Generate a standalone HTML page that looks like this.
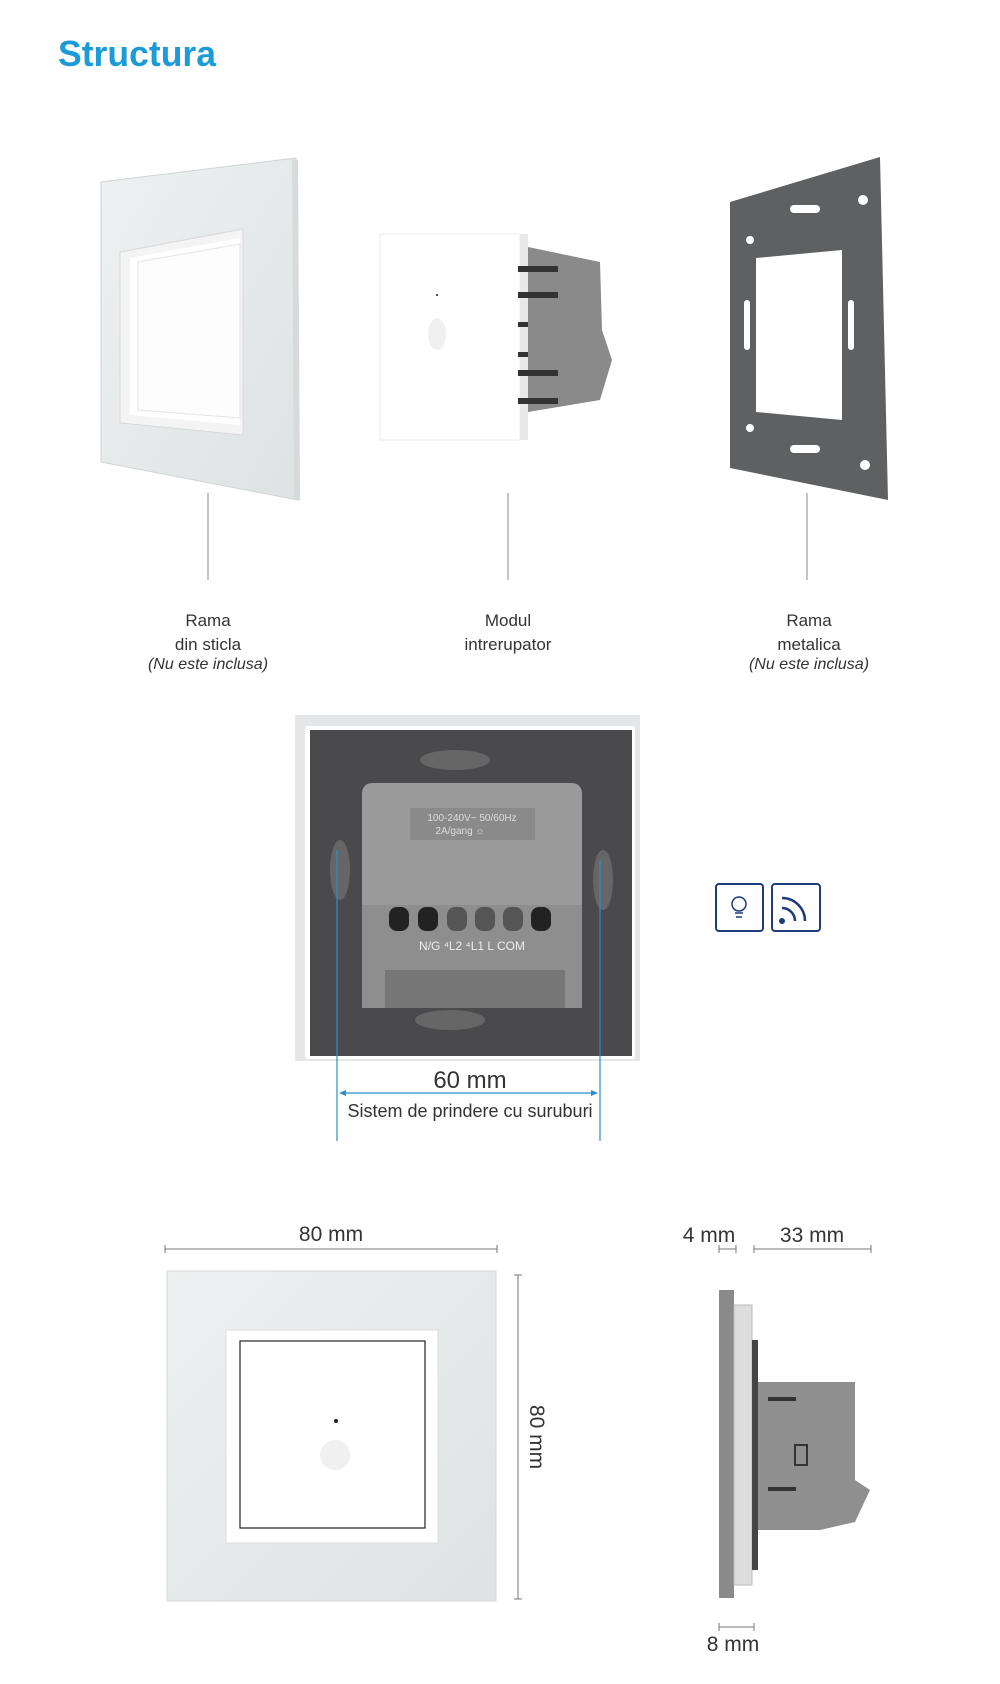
<!DOCTYPE html>
<html><head><meta charset="utf-8"><style>
body{margin:0;background:#fff;}
svg{display:block;font-family:"Liberation Sans",sans-serif;}
</style></head><body>
<svg width="1000" height="1684" viewBox="0 0 1000 1684" xmlns="http://www.w3.org/2000/svg">
<defs>
<linearGradient id="gl" x1="0" y1="0" x2="1" y2="1"><stop offset="0" stop-color="#eef0f1"/><stop offset="1" stop-color="#dfe2e3"/></linearGradient>
</defs>
<text x="58" y="66" font-size="36" font-weight="bold" fill="#1b9bd7" textLength="158" lengthAdjust="spacingAndGlyphs">Structura</text>

<!-- glass frame perspective -->
<polygon points="101,182 296,158 298,500 101,462" fill="url(#gl)" stroke="#cfd4d6"/>
<polygon points="292,158 298,160 300,500 294,498" fill="#d6dadb"/>
<polygon points="120,252 243,229 243,435 120,423" fill="#f4f4f4" stroke="#d8d8d8"/>
<polygon points="130,258 240,238 240,425 130,415" fill="#fff"/>
<polygon points="138,262 240,244 240,418 138,410" fill="#fdfdfd" stroke="#e4e4e4"/>

<!-- module -->
<rect x="380" y="234" width="140" height="206" fill="#fff" stroke="#eee"/>
<rect x="520" y="234" width="8" height="206" fill="#e8e8e8"/>
<polygon points="528,247 600,262 602,330 612,360 600,400 528,412" fill="#8a8a8a"/>
<g fill="#333"><rect x="518" y="266" width="40" height="6"/><rect x="518" y="292" width="40" height="6"/><rect x="518" y="322" width="10" height="5"/><rect x="518" y="352" width="10" height="5"/><rect x="518" y="370" width="40" height="6"/><rect x="518" y="398" width="40" height="6"/></g>
<rect x="436" y="294" width="2" height="2" fill="#555"/>
<ellipse cx="437" cy="334" rx="9" ry="16" fill="#f0f0f0"/>

<!-- metal frame -->
<polygon points="730,202 880,157 888,500 730,468" fill="#5f6062"/>
<polygon points="756,258 842,250 842,420 756,412" fill="#fff"/>
<g fill="#fff">
<circle cx="863" cy="200" r="5"/><circle cx="865" cy="465" r="5"/><circle cx="750" cy="240" r="4"/><circle cx="750" cy="428" r="4"/>
<rect x="744" y="300" width="6" height="50" rx="3"/><rect x="848" y="300" width="6" height="50" rx="3"/>
<rect x="790" y="205" width="30" height="8" rx="4"/><rect x="790" y="445" width="30" height="8" rx="4"/>
</g>

<g stroke="#888" stroke-width="1">
<line x1="208" y1="493" x2="208" y2="580"/>
<line x1="508" y1="493" x2="508" y2="580"/>
<line x1="807" y1="493" x2="807" y2="580"/>
</g>
<g font-size="17" fill="#333" text-anchor="middle">
<text x="208" y="626">Rama</text><text x="208" y="650">din sticla</text><text x="208" y="669" font-style="italic" font-size="16">(Nu este inclusa)</text>
<text x="508" y="626">Modul</text><text x="508" y="650">intrerupator</text>
<text x="809" y="626">Rama</text><text x="809" y="650">metalica</text><text x="809" y="669" font-style="italic" font-size="16">(Nu este inclusa)</text>
</g>

<!-- back view -->
<rect x="295" y="715" width="345" height="346" fill="#e4e6e7"/>
<rect x="305" y="726" width="330" height="333" fill="#fff" rx="3"/>
<rect x="310" y="730" width="322" height="326" fill="#4a4a4c"/>
<rect x="362" y="783" width="220" height="225" rx="10" fill="#9a9a9a"/>
<rect x="362" y="905" width="220" height="103" fill="#8e8e8e"/>
<rect x="410" y="808" width="125" height="32" fill="#8a8a8a"/>
<text x="472" y="821" font-size="10" fill="#ddd" text-anchor="middle">100-240V~ 50/60Hz</text>
<text x="460" y="834" font-size="10" fill="#ddd" text-anchor="middle">2A/gang ☼</text>
<g fill="#222">
<rect x="389" y="907" width="20" height="24" rx="8"/><rect x="418" y="907" width="20" height="24" rx="8"/>
<rect x="447" y="907" width="20" height="24" rx="8" fill="#555"/><rect x="475" y="907" width="20" height="24" rx="8" fill="#555"/><rect x="503" y="907" width="20" height="24" rx="8" fill="#555"/><rect x="531" y="907" width="20" height="24" rx="8"/>
</g>
<text x="472" y="950" font-size="12" fill="#eee" text-anchor="middle">N/G ⁴L2 ⁴L1    L    COM</text>
<rect x="385" y="970" width="180" height="38" fill="#777"/>
<ellipse cx="455" cy="760" rx="35" ry="10" fill="#666"/>
<ellipse cx="450" cy="1020" rx="35" ry="10" fill="#666"/>
<ellipse cx="340" cy="870" rx="10" ry="30" fill="#666"/>
<ellipse cx="603" cy="880" rx="10" ry="30" fill="#666"/>

<g stroke="#2a8fc8" stroke-width="1.2">
<line x1="337" y1="850" x2="337" y2="1141"/>
<line x1="600" y1="860" x2="600" y2="1141"/>
<line x1="341" y1="1093" x2="596" y2="1093"/>
</g>
<polygon points="339,1093 346,1090 346,1096" fill="#2a8fc8"/>
<polygon points="598,1093 591,1090 591,1096" fill="#2a8fc8"/>
<text x="470" y="1088" font-size="24" fill="#333" text-anchor="middle">60 mm</text>
<text x="470" y="1117" font-size="18" fill="#333" text-anchor="middle">Sistem de prindere cu suruburi</text>

<!-- icons -->
<rect x="716" y="884" width="47" height="47" rx="3" fill="#fff" stroke="#1d3b7a" stroke-width="2"/>
<rect x="772" y="884" width="48" height="47" rx="3" fill="#fff" stroke="#1d3b7a" stroke-width="2"/>
<circle cx="739" cy="904" r="7" fill="none" stroke="#1d3b7a" stroke-width="1.5"/>
<path d="M735 913h8M736 917h6" stroke="#1d3b7a" stroke-width="1.5"/>
<circle cx="782" cy="921" r="3" fill="#1d3b7a"/>
<path d="M782 908a13 13 0 0 1 13 13M782 898a23 23 0 0 1 23 23" fill="none" stroke="#1d3b7a" stroke-width="2.5"/>

<!-- front dims -->
<g stroke="#777" stroke-width="1">
<line x1="165" y1="1249" x2="497" y2="1249"/><line x1="165" y1="1245" x2="165" y2="1253"/><line x1="497" y1="1245" x2="497" y2="1253"/>
<line x1="518" y1="1275" x2="518" y2="1599"/><line x1="514" y1="1275" x2="522" y2="1275"/><line x1="514" y1="1599" x2="522" y2="1599"/>
</g>
<text x="331" y="1241" font-size="21" fill="#333" text-anchor="middle">80 mm</text>
<text x="0" y="0" font-size="21" fill="#333" text-anchor="middle" transform="translate(530,1437) rotate(90)">80 mm</text>
<rect x="167" y="1271" width="329" height="330" fill="url(#gl)" stroke="#d5d9da"/>
<rect x="226" y="1330" width="212" height="213" fill="#fff" stroke="#ddd"/>
<rect x="240" y="1341" width="185" height="187" fill="#fff" stroke="#222" stroke-width="1.2"/>
<circle cx="336" cy="1421" r="2" fill="#222"/>
<circle cx="335" cy="1455" r="15" fill="#f0f0f0"/>

<!-- side view -->
<g stroke="#777" stroke-width="1">
<line x1="719" y1="1249" x2="736" y2="1249"/><line x1="719" y1="1245" x2="719" y2="1253"/><line x1="736" y1="1245" x2="736" y2="1253"/>
<line x1="754" y1="1249" x2="871" y2="1249"/><line x1="754" y1="1245" x2="754" y2="1253"/><line x1="871" y1="1245" x2="871" y2="1253"/>
<line x1="719" y1="1627" x2="754" y2="1627"/><line x1="719" y1="1623" x2="719" y2="1631"/><line x1="754" y1="1623" x2="754" y2="1631"/>
</g>
<text x="709" y="1242" font-size="21" fill="#333" text-anchor="middle">4 mm</text>
<text x="812" y="1242" font-size="21" fill="#333" text-anchor="middle">33 mm</text>
<text x="733" y="1651" font-size="21" fill="#333" text-anchor="middle">8 mm</text>
<rect x="719" y="1290" width="15" height="308" fill="#8a8a8a"/>
<rect x="734" y="1305" width="18" height="280" fill="#ddd" stroke="#bbb"/>
<rect x="752" y="1340" width="6" height="230" fill="#444"/>
<polygon points="758,1382 855,1382 855,1480 870,1490 855,1522 820,1530 758,1530" fill="#8f8f8f"/>
<g fill="#333"><rect x="768" y="1397" width="28" height="4"/><rect x="768" y="1487" width="28" height="4"/><rect x="795" y="1445" width="12" height="20" fill="none" stroke="#333" stroke-width="2"/></g>
</svg>
</body></html>
